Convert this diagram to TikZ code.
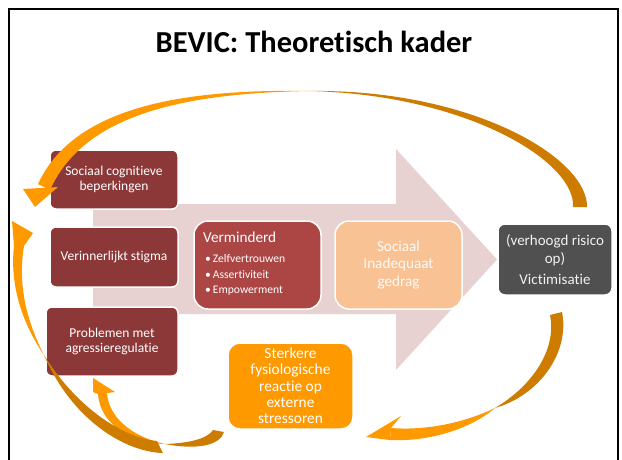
\documentclass[tikz,border=0pt]{standalone}
\usepackage{fontspec}
\setmainfont{Carlito}[Ligatures={NoCommon,NoContextual}]
\definecolor{darkred}{RGB}{140,56,56}
\definecolor{midred}{RGB}{172,70,68}
\definecolor{peach}{RGB}{249,194,148}
\definecolor{slate}{RGB}{80,80,80}
\definecolor{orangeA}{RGB}{255,153,0}
\definecolor{orangeB}{RGB}{206,124,0}
\definecolor{pinkarrow}{RGB}{232,209,209}
\begin{document}
\begin{tikzpicture}[x=1pt,y=-1pt,
  box/.style={draw=white, line width=1.5pt, text=white, align=center, inner sep=0pt},
  redbox/.style={box, fill=darkred, rounded corners=6pt, font=\fontsize{13.5}{14.5}\selectfont},
  bright/.style={fill=orangeA},
  dark/.style={fill=orangeB},
  txt/.style={text=white, inner sep=0pt, anchor=base west}]
\useasboundingbox (0,0) rectangle (622,459);
\fill[white] (0,0) rectangle (622,459);
\draw[line width=2pt] (9,470) -- (9,9) -- (618,9) -- (618,470);
\node[font=\bfseries\fontsize{30.5}{36}\selectfont, anchor=base, inner sep=0pt] (title) at (314,52) {BEVIC: Theoretisch kader};
% big pink arrow
\fill[pinkarrow] (93,204) -- (396,204) -- (396,149) -- (497,259.5) -- (396,370) -- (396,314) -- (93,314) -- cycle;
% boxes
\node[redbox, minimum width=128pt, minimum height=59pt] (b1) at (114,179.5) {Sociaal cognitieve\\beperkingen};
\node[redbox, minimum width=128pt, minimum height=60pt] (b2) at (114,257) {Verinnerlijkt stigma};
\node[redbox, minimum width=132pt, minimum height=69pt] (b3) at (112,341.5) {Problemen met\\agressieregulatie};
\node[box, fill=midred, rounded corners=14pt, minimum width=127pt, minimum height=88pt] (vm) at (257.5,265) {};
\node[txt, font=\fontsize{15.2}{18}\selectfont] (vmt) at (203,242.5) {Verminderd};
\node[txt, font=\fontsize{11.6}{14}\selectfont] (vb1) at (205,262.5) {\textbullet\,Zelfvertrouwen};
\node[txt, font=\fontsize{11.6}{14}\selectfont] (vb2) at (205,278) {\textbullet\,Assertiviteit};
\node[txt, font=\fontsize{11.6}{14}\selectfont] (vb3) at (205,293.5) {\textbullet\,Empowerment};
\node[box, fill=peach, rounded corners=14pt, minimum width=127pt, minimum height=88pt, text=white!92!peach, font=\fontsize{15.2}{17.5}\selectfont] (sg) at (398.5,265) {Sociaal\\Inadequaat\\gedrag};
\node[box, fill=slate, rounded corners=7pt, minimum width=114pt, minimum height=71pt, text=white!92!slate, font=\fontsize{15}{18}\selectfont] (vc) at (555,259.5) {(verhoogd risico\\op)\\[3pt]Victimisatie};
\node[box, fill=orangeA, rounded corners=12pt, minimum width=125pt, minimum height=86pt, font=\fontsize{15.4}{16.3}\selectfont] (st) at (290.5,386) {Sterkere\\fysiologische\\reactie op\\externe\\stressoren};
% arrow A: top arc, victimisatie -> sociaal cognitieve
\fill[dark] (587,207) .. controls (588,158) and (472,89) .. (310,91) .. controls (468,95) and (576,162) .. (573,207) -- cycle;
\fill[bright] (310,91) .. controls (190,89) and (75,104) .. (38,184) -- (50,190) .. controls (85,112) and (190,93) .. (310,91) -- cycle;
\fill[bright] (23,189) -- (35,207) -- (58,187) -- cycle;
% arrow B: victimisatie -> sterkere
\fill[dark] (562,312) .. controls (570,352) and (540,395) .. (495,408) .. controls (532,386) and (557,350) .. (550,315) -- cycle;
\fill[bright] (495,408) .. controls (468,421) and (430,431) .. (391,428) -- (390,440) .. controls (430,442) and (472,428) .. (495,408) -- cycle;
\fill[bright] (366,437) -- (401,416) -- (391,428) -- (390,440) -- cycle;
% arrow C: sterkere -> problemen
\fill[dark] (224,432) .. controls (220,446) and (195,450) .. (165,444) .. controls (192,443) and (208,438) .. (213,430) -- cycle;
\fill[bright] (165,444) .. controls (128,443) and (99,422) .. (98,393) -- (107,392) .. controls (108,417) and (132,437) .. (165,444) -- cycle;
\fill[bright] (93,378) -- (115,392) -- (107,393) -- (98,394) -- (93,392) -- cycle;
% arrow D: big left arc, bottom -> verinnerlijkt
\fill[dark] (163,453) .. controls (125,452) and (72,420) .. (44,355) .. controls (78,410) and (125,438) .. (157,441) -- cycle;
\fill[bright] (44,355) .. controls (20,320) and (10,282) .. (14,246) -- (24,246) .. controls (18,282) and (25,318) .. (44,355) -- cycle;
\fill[bright] (12,221) -- (33,233) -- (24,246) -- (14,246) -- cycle;
\end{tikzpicture}
\end{document}
